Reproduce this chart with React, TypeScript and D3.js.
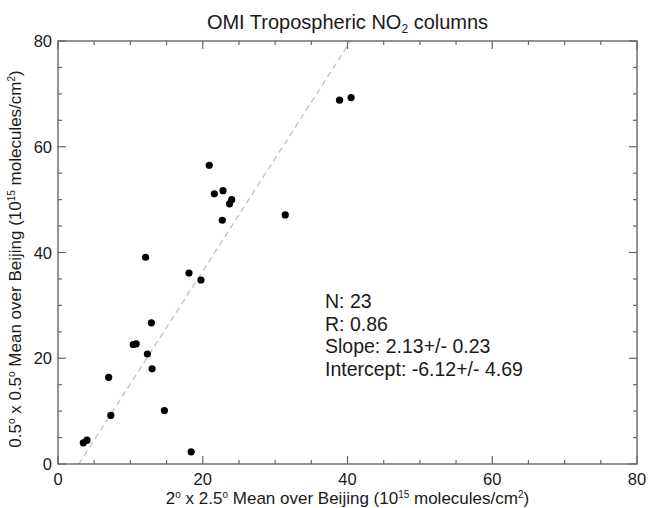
import { useEffect, useRef } from "react";
import * as d3 from "d3";

// 2x2.5 model grid mean (x) vs 0.5x0.5 mean (y), 10^15 molecules/cm2
const gridMean = [ 3.5, 4.0, 7.0, 7.3, 10.4, 10.8, 12.35, 12.9, 13.0, 12.1, 14.7, 18.4, 18.1, 19.75, 20.9, 21.6, 22.8, 23.7, 24.0, 22.7, 31.4, 38.9, 40.5 ];
const fineMean = [ 4.0, 4.5, 16.4, 9.2, 22.6, 22.7, 20.8, 26.7, 18.0, 39.1, 10.1, 2.3, 36.1, 34.8, 56.5, 51.1, 51.7, 49.2, 50.0, 46.1, 47.1, 68.8, 69.3 ];

const xTicks = [ 0, 20, 40, 60, 80 ];
const yTicks = [ 0, 20, 40, 60, 80 ];
const minorTicks = d3.range( 0, 81, 5 );

const fitSlope = 2.13;
const fitIntercept = -6.12;
const statLines = [ "N: 23", "R: 0.86", "Slope: 2.13+/- 0.23", "Intercept: -6.12+/- 4.69" ];

const W = 648;
const H = 508;
const FONT = "'Liberation Sans', Arial, Helvetica, sans-serif";

export default function App ()
{
    const svgRef = useRef<SVGSVGElement>( null );

    useEffect( () =>
    {
        if ( !svgRef.current ) return;
        const svg = d3.select( svgRef.current );
        svg.selectAll( "*" ).remove();

        const left = 58, right = 637, top = 41, bottom = 464;
        const x = d3.scaleLinear().domain( [ 0, 80 ] ).range( [ left, right ] );
        const y = d3.scaleLinear().domain( [ 0, 80 ] ).range( [ bottom, top ] );

        svg.append( "rect" ).attr( "width", W ).attr( "height", H ).attr( "fill", "#fff" );

        // clip for fit line
        svg.append( "defs" ).append( "clipPath" ).attr( "id", "plot-clip" )
            .append( "rect" ).attr( "x", left ).attr( "y", top )
            .attr( "width", right - left ).attr( "height", bottom - top );

        // regression line
        const x0 = ( 0 - fitIntercept ) / fitSlope;
        const x1 = ( 80 - fitIntercept ) / fitSlope;
        svg.append( "line" ).attr( "clip-path", "url(#plot-clip)" )
            .attr( "x1", x( x0 ) ).attr( "y1", y( 0 ) )
            .attr( "x2", x( x1 ) ).attr( "y2", y( 80 ) )
            .attr( "stroke", "#c4c4c4" ).attr( "stroke-width", 1.4 ).attr( "stroke-dasharray", "6,4" );

        // ticks on all four sides, pointing in
        const tickColor = "#666";
        const ticks = svg.append( "g" ).attr( "stroke", tickColor ).attr( "stroke-width", 1.2 );
        minorTicks.forEach( ( t ) =>
        {
            const len = t % 20 === 0 ? 8 : 4;
            ticks.append( "line" ).attr( "x1", x( t ) ).attr( "x2", x( t ) ).attr( "y1", bottom ).attr( "y2", bottom - len );
            ticks.append( "line" ).attr( "x1", x( t ) ).attr( "x2", x( t ) ).attr( "y1", top ).attr( "y2", top + len );
            ticks.append( "line" ).attr( "y1", y( t ) ).attr( "y2", y( t ) ).attr( "x1", left ).attr( "x2", left + len );
            ticks.append( "line" ).attr( "y1", y( t ) ).attr( "y2", y( t ) ).attr( "x1", right ).attr( "x2", right - len );
        } );

        // frame
        svg.append( "rect" ).attr( "x", left ).attr( "y", top )
            .attr( "width", right - left ).attr( "height", bottom - top )
            .attr( "fill", "none" ).attr( "stroke", tickColor ).attr( "stroke-width", 1.4 );

        // points
        svg.append( "g" ).selectAll( "circle" ).data( gridMean ).join( "circle" )
            .attr( "cx", ( d ) => x( d ) ).attr( "cy", ( _d, i ) => y( fineMean[ i ] ) )
            .attr( "r", 3.6 ).attr( "fill", "#000" );

        const txt = "#1a1a1a";

        // tick labels
        svg.append( "g" ).selectAll( "text" ).data( xTicks ).join( "text" )
            .attr( "x", ( d ) => x( d ) ).attr( "y", 485 ).attr( "text-anchor", "middle" )
            .attr( "fill", txt ).style( "font-size", "16.5px" ).style( "font-family", FONT )
            .text( ( d ) => String( d ) );
        svg.append( "g" ).selectAll( "text" ).data( yTicks ).join( "text" )
            .attr( "x", left - 6 ).attr( "y", ( d ) => y( d ) + 6 ).attr( "text-anchor", "end" )
            .attr( "fill", txt ).style( "font-size", "16.5px" ).style( "font-family", FONT )
            .text( ( d ) => String( d ) );

        // title
        const title = svg.append( "text" ).attr( "x", ( left + right ) / 2 ).attr( "y", 29 )
            .attr( "text-anchor", "middle" ).attr( "fill", txt )
            .style( "font-size", "20px" ).style( "font-family", FONT );
        title.append( "tspan" ).text( "OMI Tropospheric NO" );
        title.append( "tspan" ).attr( "dy", 4 ).style( "font-size", "12px" ).text( "2" );
        title.append( "tspan" ).attr( "dy", -4 ).text( " columns" );

        // axis titles
        const axisTitle = ( g: d3.Selection<SVGTextElement, unknown, null, undefined>, prefix: string ) =>
        {
            const sup = ( s: string ) => g.append( "tspan" ).attr( "dy", -6 ).style( "font-size", "10px" ).text( s );
            const norm = ( s: string ) => g.append( "tspan" ).attr( "dy", 6 ).text( s );
            if ( prefix === "x" )
            {
                g.append( "tspan" ).text( "2" ); sup( "o" ); norm( " x 2.5" ); sup( "o" );
            } else
            {
                g.append( "tspan" ).text( "0.5" ); sup( "o" ); norm( " x 0.5" ); sup( "o" );
            }
            norm( " Mean over Beijing (10" ); sup( "15" ); norm( " molecules/cm" ); sup( "2" ); norm( ")" );
        };

        const xt = svg.append( "text" ).attr( "x", ( left + right ) / 2 ).attr( "y", 504 )
            .attr( "text-anchor", "middle" ).attr( "fill", txt )
            .style( "font-size", "17px" ).style( "font-family", FONT );
        axisTitle( xt, "x" );

        const yt = svg.append( "text" ).attr( "transform", `translate(21,${ 259 }) rotate(-90)` )
            .attr( "text-anchor", "middle" ).attr( "fill", txt )
            .style( "font-size", "17px" ).style( "font-family", FONT );
        axisTitle( yt, "y" );

        // stats block
        svg.append( "g" ).selectAll( "text" ).data( statLines ).join( "text" )
            .attr( "x", 325 ).attr( "y", ( _d, i ) => 308 + i * 22.5 )
            .attr( "fill", txt ).style( "font-size", "19.5px" ).style( "font-family", FONT )
            .text( ( d ) => d );
    }, [] );

    return (
        <svg ref={ svgRef } width={ W } height={ H }
            style={ { position: "absolute", left: 0, top: 0, display: "block" } } />
    );
}
